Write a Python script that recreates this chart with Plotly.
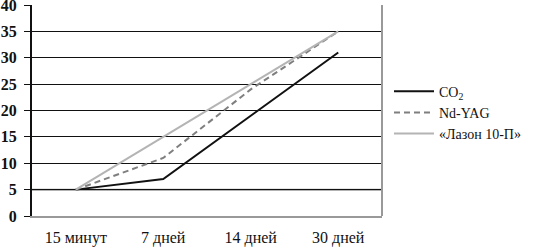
import plotly.graph_objects as go

categories = ["15 минут", "7 дней", "14 дней", "30 дней"]
co2 = [5, 7, 19, 31]
ndyag = [5, 11, 24, 35]
lazon = [5, 15, 25, 35]
y_ticks = [0, 5, 10, 15, 20, 25, 30, 35, 40]

SERIF = "Times New Roman"

fig = go.Figure()
fig.add_trace(go.Scatter(x=categories, y=co2, mode="lines", name="CO<sub>2</sub>",
                         line=dict(color="#111111", width=2)))
fig.add_trace(go.Scatter(x=categories, y=ndyag, mode="lines", name="Nd-YAG",
                         line=dict(color="#7f7f7f", width=2, dash="6px,4px")))
fig.add_trace(go.Scatter(x=categories, y=lazon, mode="lines", name="«Лазон 10-П»",
                         line=dict(color="#b4b4b4", width=2)))

fig.update_layout(
    width=547, height=247,
    margin=dict(l=32, r=165, t=5, b=31, autoexpand=False),
    paper_bgcolor="white", plot_bgcolor="white",
    font=dict(family=SERIF, color="#111111"),
    legend=dict(x=1.02, y=0.49, xanchor="left", yanchor="middle",
                font=dict(size=14, family=SERIF, color="#111111"),
                traceorder="normal", itemwidth=40),
    showlegend=True,
)
fig.update_xaxes(type="category", range=[-0.5, 3.5], showgrid=False, automargin=False,
                 showline=True, linecolor="#999999", linewidth=2,
                 tickfont=dict(size=16, family=SERIF, color="#111111"),
                 ticks="", ticklabelstandoff=6, fixedrange=True)
fig.update_yaxes(range=[0, 40], tickvals=y_ticks, showgrid=True, gridcolor="#111111", gridwidth=1,
                 zeroline=False, showline=True, linecolor="#111111", linewidth=2,
                 automargin=False, ticklabeloverflow="allow",
                 ticks="outside", ticklen=6, tickcolor="#111111",
                 tickfont=dict(size=16, family=SERIF, color="#111111", weight="bold"),
                 ticklabelstandoff=4, fixedrange=True)
fig.add_shape(type="line", xref="paper", yref="paper", x0=1, x1=1, y0=0, y1=1,
              line=dict(color="#999999", width=2))
fig.add_shape(type="line", xref="paper", yref="y", x0=0, x1=1, y0=5, y1=5,
              line=dict(color="#999999", width=2), layer="below")

fig.write_html("out.html", config={"displayModeBar": False},
               post_script="document.body.style.margin='0px';")
